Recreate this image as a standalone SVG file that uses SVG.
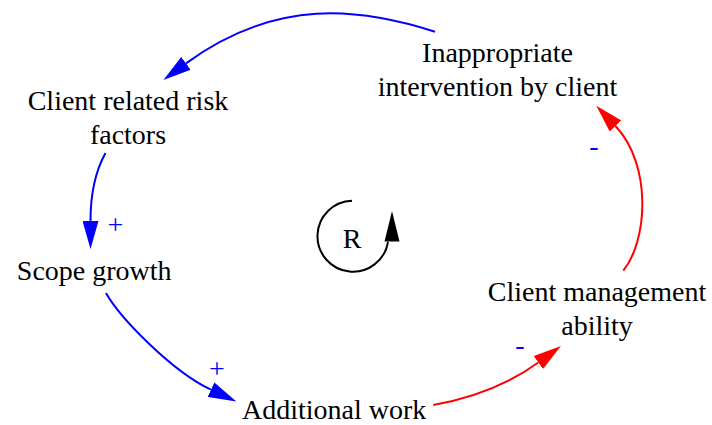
<svg xmlns="http://www.w3.org/2000/svg" width="712" height="425" viewBox="0 0 712 425">
  <defs>
    <style>
      .label { font-family: "Liberation Serif", "Times New Roman", serif; font-size: 28px; fill: #000; text-anchor: middle; }
      .sign { font-family: "Liberation Serif", "Times New Roman", serif; font-size: 28px; fill: #0000ff; text-anchor: middle; }
      .pos { fill: none; stroke: #0000ff; stroke-width: 2; marker-end: url(#headBlue); }
      .neg { fill: none; stroke: #ff0000; stroke-width: 2; marker-end: url(#headRed); }
      .loop { fill: none; stroke: #000; stroke-width: 2; }
    </style>
    <marker id="headBlue" markerUnits="userSpaceOnUse" viewBox="0 0 28 16" markerWidth="28" markerHeight="16" refX="0" refY="8" orient="auto">
      <path d="M0,0 L28,8 L0,16 z" fill="#0000ff"/>
    </marker>
    <marker id="headRed" markerUnits="userSpaceOnUse" viewBox="0 0 28 16" markerWidth="28" markerHeight="16" refX="0" refY="8" orient="auto">
      <path d="M0,0 L28,8 L0,16 z" fill="#ff0000"/>
    </marker>
  </defs>

  <rect width="712" height="425" fill="#fff"/>

  <!-- causal links -->
  <g id="connectors">
    <path class="pos" d="M435,31.7 C360,8 276.8,-3 186,63.4"/>
    <path class="pos" d="M105.5,153 Q90.5,180 90.5,221"/>
    <path class="pos" d="M106,293 C120,318 172.5,371.7 211,389.7"/>
    <path class="neg" d="M433.3,405 Q494.9,394.1 538.3,362.5"/>
    <path class="neg" d="M623.3,270.7 C648,240 651.9,164.6 615.5,126"/>
    <text class="sign" x="115.5" y="234">+</text>
    <text class="sign" x="216.8" y="378">+</text>
    <text class="sign" x="594" y="155">-</text>
    <text class="sign" x="520" y="354">-</text>
  </g>

  <!-- reinforcing loop marker -->
  <g id="loop">
    <path class="loop" d="M352,200.7 A35.5,35.5 0 1 0 388,242"/>
    <polygon points="392,211 384.5,241.5 399.5,241.5" fill="#000"/>
    <text class="label" x="352" y="248">R</text>
  </g>

  <g id="node-intervention">
    <text class="label" x="497.5" y="62">Inappropriate</text>
    <text class="label" x="497.5" y="96">intervention by client</text>
  </g>
  <g id="node-risk">
    <text class="label" x="128" y="110">Client related risk</text>
    <text class="label" x="128" y="144">factors</text>
  </g>
  <g id="node-scope">
    <text class="label" x="94.2" y="280">Scope growth</text>
  </g>
  <g id="node-work">
    <text class="label" x="334.2" y="419">Additional work</text>
  </g>
  <g id="node-ability">
    <text class="label" x="597" y="301">Client management</text>
    <text class="label" x="597" y="335">ability</text>
  </g>
</svg>
